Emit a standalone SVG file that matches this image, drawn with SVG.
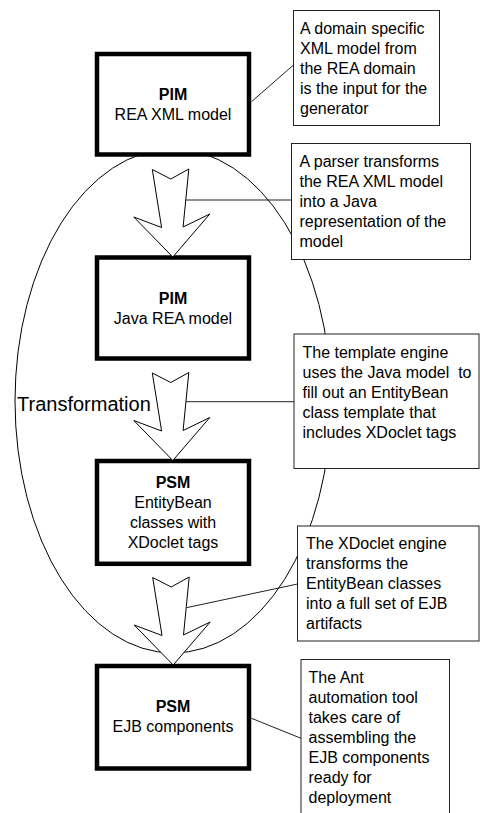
<svg xmlns="http://www.w3.org/2000/svg" xmlns:xlink="http://www.w3.org/1999/xlink" width="480" height="813" viewBox="0 0 480 813">
<style>
  text { font-family: "Liberation Sans", Arial, sans-serif; font-size: 16px; fill: #000; white-space: pre; }
  .c { text-anchor: middle; }
  .b { font-weight: bold; }
  .box { fill: #fff; stroke: #000; stroke-width: 4.5; }
  .note { fill: #fff; stroke: #222; stroke-width: 1; }
  .arrow { fill: #fff; stroke: #000; stroke-width: 1; stroke-linejoin: miter; }
  .conn { stroke: #222; stroke-width: 1; fill: none; }
  .ell { fill: none; stroke: #000; stroke-width: 1; }
</style>
<defs>
  <polygon id="arr" points="-20.5,-87.5 -2,-78 16,-88 10.3,-30 37,-43 0,0 -39,-40 -11.2,-29.5"/>
</defs>
<rect width="480" height="813" fill="#fff"/>
<g id="transformation">
  <ellipse class="ell" cx="173" cy="401" rx="158" ry="252"/>
  <text x="17" y="410.5" style="font-size:20px">Transformation</text>
</g>
<g id="pim-rea-xml">
  <rect class="box" x="97" y="54" width="152" height="100.5"/>
  <text class="c b" x="173" y="100">PIM</text>
  <text class="c" x="173" y="120">REA XML model</text>
</g>
<g id="pim-java-rea">
  <rect class="box" x="97" y="257.5" width="152" height="101"/>
  <text class="c b" x="173" y="304">PIM</text>
  <text class="c" x="173" y="324">Java REA model</text>
</g>
<g id="psm-entitybean">
  <rect class="box" x="97" y="461" width="152" height="102.8"/>
  <text class="c b" x="173" y="488.3">PSM</text>
  <text class="c" x="173" y="508.3">EntityBean</text>
  <text class="c" x="173" y="528.3">classes with</text>
  <text class="c" x="173" y="548.3">XDoclet tags</text>
</g>
<g id="psm-ejb">
  <rect class="box" x="97" y="666" width="152" height="102.5"/>
  <text class="c b" x="173" y="711.7">PSM</text>
  <text class="c" x="173" y="731.7">EJB components</text>
</g>
<g id="arrows">
  <use xlink:href="#arr" class="arrow" transform="translate(172.8,257)"/>
  <use xlink:href="#arr" class="arrow" transform="translate(172.8,460.5)"/>
  <use xlink:href="#arr" class="arrow" transform="translate(173.2,665)"/>
</g>
<g id="note1">
  <rect class="note" x="293.5" y="10.5" width="146" height="115"/>
  <text x="300" y="34">A domain specific</text>
  <text x="300" y="54">XML model from</text>
  <text x="300" y="74">the REA domain</text>
  <text x="300" y="94">is the input for the</text>
  <text x="300" y="114">generator</text>
</g>
<g id="note2">
  <rect class="note" x="291.5" y="143.5" width="179" height="116"/>
  <text x="299.5" y="167">A parser transforms</text>
  <text x="299.5" y="187">the REA XML model</text>
  <text x="299.5" y="207">into a Java</text>
  <text x="299.5" y="227">representation of the</text>
  <text x="299.5" y="247">model</text>
</g>
<g id="note3">
  <rect class="note" x="294" y="334" width="185" height="134.5"/>
  <text x="302.5" y="357.5">The template engine</text>
  <text x="302.5" y="377.5">uses the Java model  to</text>
  <text x="302.5" y="397.5">fill out an EntityBean</text>
  <text x="302.5" y="417.5">class template that</text>
  <text x="302.5" y="437.5">includes XDoclet tags</text>
</g>
<g id="note4">
  <rect class="note" x="297.5" y="526" width="181.5" height="115"/>
  <text x="306" y="549">The XDoclet engine</text>
  <text x="306" y="569">transforms the</text>
  <text x="306" y="589">EntityBean classes</text>
  <text x="306" y="609">into a full set of EJB</text>
  <text x="306" y="629">artifacts</text>
</g>
<g id="note5">
  <rect class="note" x="301" y="659.5" width="148.5" height="170"/>
  <text x="308.5" y="682.5">The Ant</text>
  <text x="308.5" y="702.5">automation tool</text>
  <text x="308.5" y="722.5">takes care of</text>
  <text x="308.5" y="742.5">assembling the</text>
  <text x="308.5" y="762.5">EJB components</text>
  <text x="308.5" y="782.5">ready for</text>
  <text x="308.5" y="802.5">deployment</text>
</g>
<g id="connectors">
  <line class="conn" x1="251.5" y1="101.7" x2="293.5" y2="65"/>
  <line class="conn" x1="186" y1="200" x2="291.5" y2="200"/>
  <line class="conn" x1="186" y1="401.7" x2="294" y2="401.7"/>
  <line class="conn" x1="186.5" y1="607.7" x2="297.5" y2="584"/>
  <line class="conn" x1="251.5" y1="718.3" x2="301" y2="738.3"/>
</g>
</svg>
